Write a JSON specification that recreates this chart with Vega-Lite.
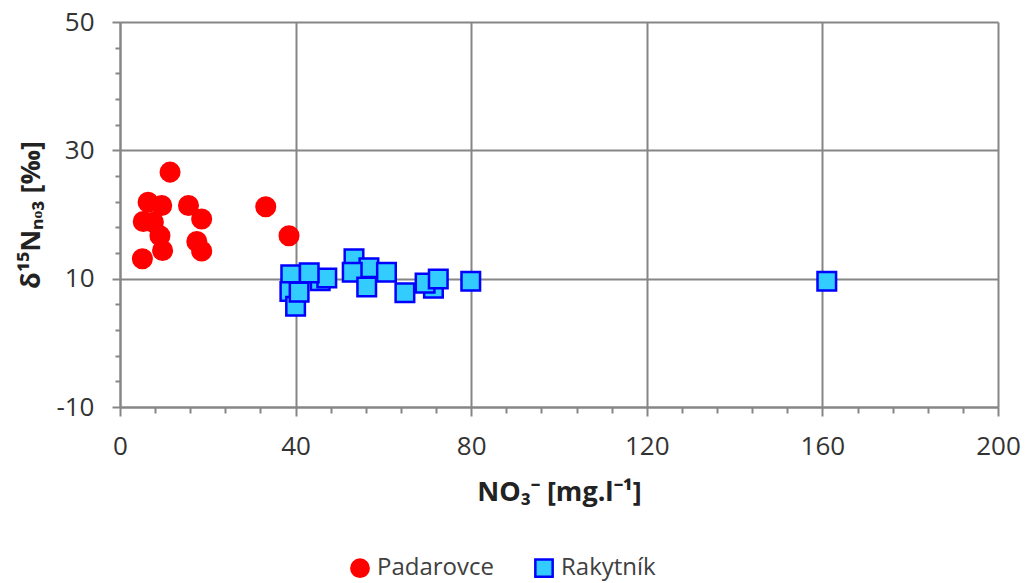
{
  "$schema": "https://vega.github.io/schema/vega-lite/v6.json",
  "autosize": "none",
  "padding": {"left": 120, "top": 22, "right": 27, "bottom": 176},
  "width": 878,
  "height": 385,
  "background": "white",
  "config": {
    "view": {"stroke": null},
    "font": "Open Sans",
    "axis": {
      "domainColor": "#868686",
      "domainWidth": 2,
      "gridColor": "#868686",
      "gridWidth": 2,
      "tickColor": "#868686",
      "tickWidth": 2,
      "labelFont": "Open Sans",
      "labelFontSize": 26,
      "labelColor": "#333333",
      "titleFont": "Open Sans",
      "titleFontSize": 27,
      "titleFontWeight": "bold",
      "titleColor": "#222222"
    },
    "legend": {
      "labelFont": "Open Sans",
      "labelFontSize": 24,
      "labelColor": "#404040"
    }
  },
  "data": {
    "values": [
      {"site": "Padarovce", "no3": 11.4, "d15n": 26.6},
      {"site": "Padarovce", "no3": 6.4, "d15n": 21.9},
      {"site": "Padarovce", "no3": 9.5, "d15n": 21.4},
      {"site": "Padarovce", "no3": 15.6, "d15n": 21.4},
      {"site": "Padarovce", "no3": 18.6, "d15n": 19.3},
      {"site": "Padarovce", "no3": 7.6, "d15n": 18.8},
      {"site": "Padarovce", "no3": 5.3, "d15n": 18.9},
      {"site": "Padarovce", "no3": 9.1, "d15n": 16.7},
      {"site": "Padarovce", "no3": 18.6, "d15n": 14.3},
      {"site": "Padarovce", "no3": 17.5, "d15n": 15.8},
      {"site": "Padarovce", "no3": 9.7, "d15n": 14.4},
      {"site": "Padarovce", "no3": 5.1, "d15n": 13.1},
      {"site": "Padarovce", "no3": 33.2, "d15n": 21.2},
      {"site": "Padarovce", "no3": 38.5, "d15n": 16.7},
      {"site": "Rakytník", "no3": 45.6, "d15n": 9.7},
      {"site": "Rakytník", "no3": 47.1, "d15n": 10.1},
      {"site": "Rakytník", "no3": 38.9, "d15n": 10.6},
      {"site": "Rakytník", "no3": 43.1, "d15n": 10.9},
      {"site": "Rakytník", "no3": 38.7, "d15n": 8.0},
      {"site": "Rakytník", "no3": 40.0, "d15n": 5.7},
      {"site": "Rakytník", "no3": 40.8, "d15n": 7.9},
      {"site": "Rakytník", "no3": 53.3, "d15n": 13.1},
      {"site": "Rakytník", "no3": 56.7, "d15n": 11.7},
      {"site": "Rakytník", "no3": 52.9, "d15n": 11.0},
      {"site": "Rakytník", "no3": 56.2, "d15n": 8.7},
      {"site": "Rakytník", "no3": 60.7, "d15n": 11.0},
      {"site": "Rakytník", "no3": 64.9, "d15n": 7.8},
      {"site": "Rakytník", "no3": 71.4, "d15n": 8.5},
      {"site": "Rakytník", "no3": 69.5, "d15n": 9.3},
      {"site": "Rakytník", "no3": 72.5, "d15n": 9.95},
      {"site": "Rakytník", "no3": 79.9, "d15n": 9.6},
      {"site": "Rakytník", "no3": 161.0, "d15n": 9.6}
    ]
  },
  "mark": {"type": "point", "filled": true, "opacity": 1, "size": 345, "strokeWidth": 2.5},
  "encoding": {
    "x": {
      "field": "no3",
      "type": "quantitative",
      "scale": {"domain": [0, 200], "nice": false, "zero": false},
      "axis": {
        "title": "NO₃⁻ [mg.l⁻¹]",
        "values": [0, 8, 16, 24, 32, 40, 48, 56, 64, 72, 80, 88, 96, 104, 112, 120, 128, 136, 144, 152, 160, 168, 176, 184, 192, 200],
        "labelExpr": "datum.value % 40 === 0 ? datum.label : ''",
        "gridOpacity": {"condition": {"test": "datum.value % 40 === 0", "value": 1}, "value": 0},
        "tickSize": {"condition": {"test": "datum.value % 40 === 0", "value": 9}, "value": 6},
        "labelPadding": 17,
        "labelFlush": false,
        "labelOverlap": false,
        "titlePadding": 20
      }
    },
    "y": {
      "field": "d15n",
      "type": "quantitative",
      "scale": {"domain": [-10, 50], "nice": false, "zero": false},
      "axis": {
        "title": "δ¹⁵Nₙₒ₃ [‰]",
        "values": [-10, -6, -2, 2, 6, 10, 14, 18, 22, 26, 30, 34, 38, 42, 46, 50],
        "labelExpr": "(datum.value + 10) % 20 === 0 ? ('' + datum.value) : ''",
        "gridOpacity": {"condition": {"test": "(datum.value + 10) % 20 === 0", "value": 1}, "value": 0},
        "tickSize": {"condition": {"test": "(datum.value + 10) % 20 === 0", "value": 8}, "value": 5},
        "labelPadding": 18,
        "labelFlush": false,
        "labelOverlap": false,
        "titlePadding": 10
      }
    },
    "color": {
      "field": "site",
      "type": "nominal",
      "scale": {"domain": ["Padarovce", "Rakytník"], "range": ["#FF0000", "#33CCFF"]},
      "legend": {
        "title": null,
        "orient": "none",
        "direction": "horizontal",
        "legendX": 228,
        "legendY": 534,
        "symbolSize": 300,
        "symbolStrokeWidth": 2.5,
        "columnPadding": 36,
        "labelOffset": 5
      }
    },
    "shape": {
      "field": "site",
      "type": "nominal",
      "scale": {"domain": ["Padarovce", "Rakytník"], "range": ["circle", "square"]},
      "legend": null
    },
    "stroke": {
      "field": "site",
      "type": "nominal",
      "scale": {"domain": ["Padarovce", "Rakytník"], "range": ["#FF0000", "#0000FF"]},
      "legend": null
    }
  }
}
